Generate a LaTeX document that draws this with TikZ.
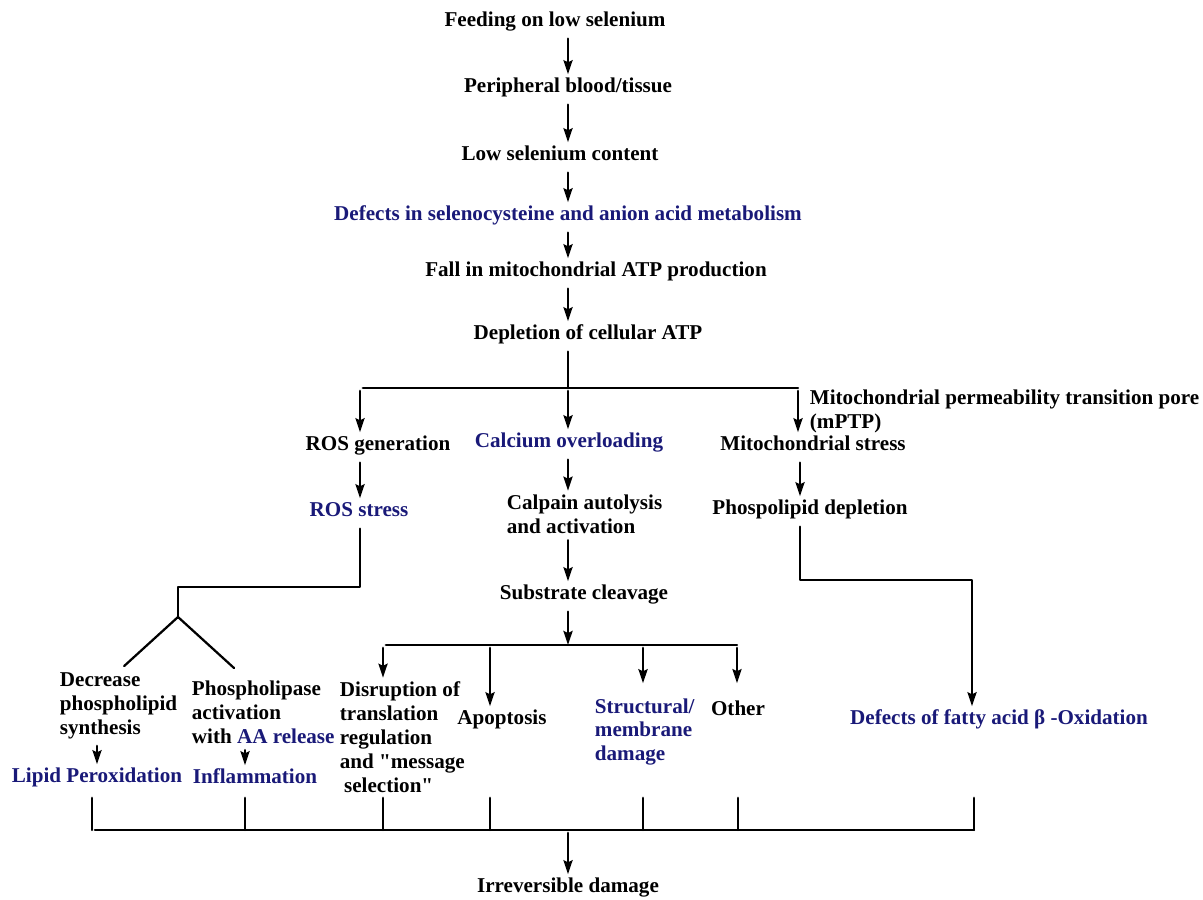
\documentclass[tikz,border=0pt]{standalone}
\usepackage{fontspec}
\setmainfont{Liberation Serif}[Ligatures=TeXOff]
\usetikzlibrary{arrows.meta}
\definecolor{qqqqaa}{rgb}{0.1,0.1,0.47}
\begin{document}
\begin{tikzpicture}[line cap=round,line join=round,>={Stealth[length=10pt,width=6.5pt,inset=1.5pt]},
  x=0.025cm,y=-0.025cm,line width=1.6pt,
  lbl/.style={font=\fontsize{15}{17}\selectfont\bfseries,inner sep=2pt,text height=10.5pt,text depth=3.5pt},
  blk/.style={font=\fontsize{15}{17}\selectfont\bfseries,inner sep=2pt,align=left,anchor=west},
  every path/.style={shorten <=2pt}]
  \useasboundingbox (0,0) rectangle (1203,900);
  % main column
  \node[lbl] (feed) at (555,22) {Feeding on low selenium};
  \node[lbl] (periph) at (568,88) {Peripheral blood/tissue};
  \node[lbl] (lowse) at (560,156) {Low selenium content};
  \node[lbl,text=qqqqaa] (secys) at (568,216) {Defects in selenocysteine and anion acid metabolism};
  \node[lbl] (fall) at (596,272) {Fall in mitochondrial ATP production};
  \node[lbl] (depl) at (588,335) {Depletion of cellular ATP};
  % three branches
  \node[lbl] (rosgen) at (378,446) {ROS generation};
  \node[lbl,text=qqqqaa] (calc) at (569,443) {Calcium overloading};
  \node[blk] (mptp) at (806,411) {Mitochondrial permeability transition pore\\(mPTP)};
  \node[lbl] (mito) at (813,446) {Mitochondrial stress};
  \node[lbl,text=qqqqaa] (rosst) at (359,512) {ROS stress};
  \node[blk] (calp) at (503,514) {Calpain autolysis\\and activation};
  \node[lbl] (subst) at (584,595) {Substrate cleavage};
  \node[lbl] (phdep) at (810,510) {Phospolipid depletion};
  % lower row
  \node[blk] (decr) at (56,706) {Decrease\\phospholipid\\synthesis};
  \node[blk] (plase) at (188,712) {Phospholipase\\activation\\with \textcolor{qqqqaa}{AA release}};
  \node[lbl,text=qqqqaa] (lipid) at (97,778) {Lipid Peroxidation};
  \node[lbl,text=qqqqaa] (inflam) at (255,779) {Inflammation};
  \node[blk] (disr) at (336,737) {Disruption of\\translation\\regulation\\and "message\\\hspace{3pt}selection"};
  \node[lbl] (apop) at (502,720) {Apoptosis};
  \node[blk,text=qqqqaa] (struc) at (591,732) {Structural/\\membrane\\damage};
  \node[lbl] (other) at (738,711) {Other};
  \node[lbl,text=qqqqaa] (fatty) at (999,720) {Defects of fatty acid β -Oxidation};
  \node[lbl] (irr) at (568,888) {Irreversible damage};
  % connectors
  \coordinate (sp) at (568,0); \coordinate (mx) at (800,0); \coordinate (ix) at (245,0);
  \foreach \a/\b in {feed/periph,periph/lowse,lowse/secys,secys/fall,fall/depl}
  \draw[->] (\a.south -| sp) -- (\b.north -| sp);
  \coordinate (j1) at (568,388); \coordinate (jl) at (360,388); \coordinate (jr) at (798,388);
  \draw (depl.south -| sp) -- (j1); \draw (jl) -- (jr);
  \draw[->] (jl) -- (rosgen.north -| jl); \draw[->] (j1) -- (calc.north -| j1);
  \draw[->] (jr) -- (mito.north -| jr);
  \draw[->] (rosgen.south -| jl) -- (rosst.north -| jl);
  \draw[->] (calc.south -| sp) -- (calp.north -| sp);
  \draw[->] (calp.south -| sp) -- (subst.north -| sp);
  \draw[->] (mito.south -| mx) -- (phdep.north -| mx);
  % ROS fork
  \coordinate (r1) at (360,587); \coordinate (fk) at (178,617);
  \coordinate (fl) at (122,668); \coordinate (fr) at (234,668);
  \draw (rosst.south -| jl) -- (r1) -| (fk); \draw (fl) -- (fk) -- (fr);
  \draw[->] (decr.south -| lipid.north) -- (lipid.north);
  \draw[->] (plase.south -| ix) -- (inflam.north -| ix);
  % substrate cleavage split
  \coordinate (s1) at (568,645); \coordinate (sl) at (383,645); \coordinate (sr) at (737,645);
  \coordinate (sa) at (490,645); \coordinate (ss) at (643,645);
  \draw[->] (subst.south -| sp) -- (s1); \draw (sl) -- (sr);
  \draw[->] (sl) -- (disr.north -| sl); \draw[->] (sa) -- (apop.north -| sa);
  \draw[->,shorten >=8pt] (ss) -- (struc.north -| ss);
  \draw[->,shorten >=10pt] (sr) -- (other.north -| sr);
  % fatty acid branch
  \coordinate (p1) at (800,580); \coordinate (p2) at (972,580);
  \draw[->] (phdep.south -| mx) -- (p1) -- (p2) -- (fatty.north -| p2);
  % bottom bar
  \coordinate (bl) at (92,830); \coordinate (br) at (974,830);
  \foreach \n/\x in {1/92,2/245,3/383,4/490,5/643,6/738,7/974}{
    \coordinate (t\n) at (\x,795);
    \draw (t\n) -- (t\n |- bl);}
  \draw (bl) -- (br);
  \draw[->] (bl -| sp) -- (irr.north -| sp);
\end{tikzpicture}
\end{document}
